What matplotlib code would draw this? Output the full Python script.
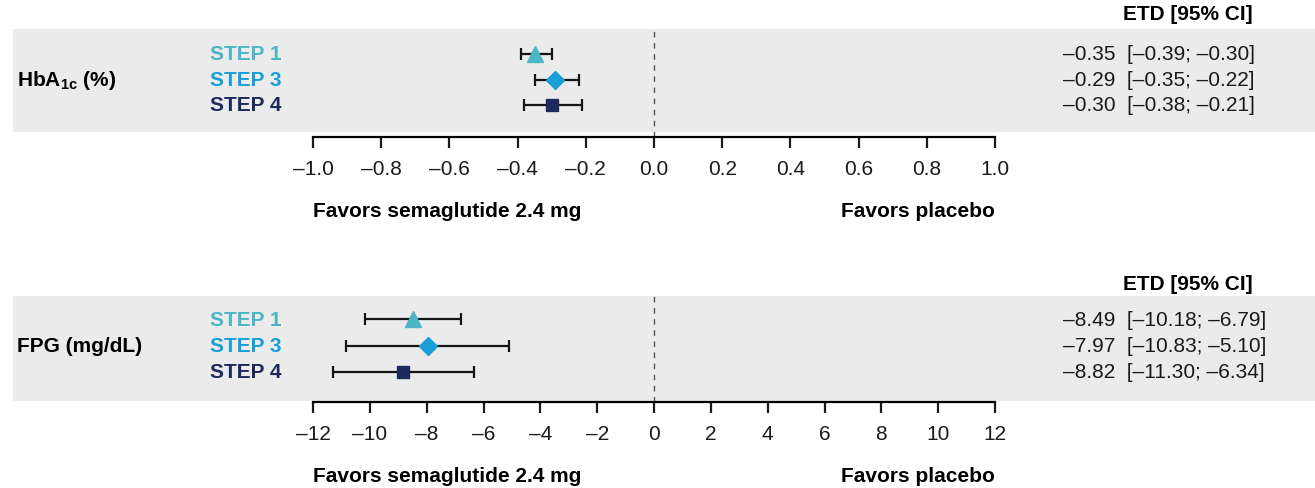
import matplotlib.pyplot as plt
from matplotlib.patches import Rectangle
from matplotlib.ticker import FuncFormatter

plt.rcParams['font.family'] = ['Liberation Sans', 'DejaVu Sans']
plt.rcParams['mathtext.fontset'] = 'custom'
plt.rcParams['mathtext.bf'] = 'Liberation Sans:bold'
plt.rcParams['mathtext.rm'] = 'Liberation Sans'

# data
studies = ["STEP 1", "STEP 3", "STEP 4"]
study_colors = ["#4cb5c6", "#189fd8", "#1d2a5e"]
study_markers = ["^", "D", "s"]
marker_sizes = [11, 9, 8]

hba1c_etd = [-0.35, -0.29, -0.30]
hba1c_lo = [-0.39, -0.35, -0.38]
hba1c_hi = [-0.30, -0.22, -0.21]
hba1c_ticks = [-1.0, -0.8, -0.6, -0.4, -0.2, 0.0, 0.2, 0.4, 0.6, 0.8, 1.0]

fpg_etd = [-8.49, -7.97, -8.82]
fpg_lo = [-10.18, -10.83, -11.30]
fpg_hi = [-6.79, -5.10, -6.34]
fpg_ticks = [-12, -10, -8, -6, -4, -2, 0, 2, 4, 6, 8, 10, 12]

FS = 15
W, H = 1315, 489
fig = plt.figure(figsize=(W / 100, H / 100), dpi=100)

def fx(px):
    return px / W

def fy(py):
    return 1 - py / H

def dash(s):
    return s.replace("-", "\u2013")

def panel(title, etd, lo, hi, ticks, fmt, band, ax_bottom, rows, header_y):
    # grey band behind the rows
    fig.patches.append(Rectangle((fx(13), fy(band[1])), fx(W - 13), (band[1] - band[0]) / H,
                                 transform=fig.transFigure, facecolor="#ebebeb",
                                 edgecolor="none", zorder=0))
    top = band[0]
    ax = fig.add_axes([fx(313), fy(ax_bottom), fx(995 - 313), (ax_bottom - top) / H])
    ax.set_zorder(2)
    ax.patch.set_alpha(0)
    span = rows[1] - rows[0]
    ax.set_ylim((ax_bottom - rows[0]) / span, -(rows[0] - top) / span)
    ax.set_xlim(ticks[0], ticks[-1])
    ax.axvline(0, color="#555555", lw=1, ls=(0, (4, 4)))
    for i in range(len(studies)):
        ax.errorbar(etd[i], i, xerr=[[etd[i] - lo[i]], [hi[i] - etd[i]]], fmt="none",
                    ecolor="#151515", elinewidth=1.6, capsize=4.5, capthick=1.6, zorder=2)
        ax.plot(etd[i], i, marker=study_markers[i], color=study_colors[i],
                markersize=marker_sizes[i], zorder=3, clip_on=False)
        fig.text(fx(210), fy(rows[i]), studies[i], color=study_colors[i], fontsize=FS,
                 fontweight="bold", va="center", ha="left")
        fig.text(fx(1063), fy(rows[i]),
                 dash(f"{etd[i]:.2f}  [{lo[i]:.2f}; {hi[i]:.2f}]"),
                 fontsize=FS, va="center", ha="left", color="#1a1a1a")
    for s in ["top", "left", "right"]:
        ax.spines[s].set_visible(False)
    ax.spines["bottom"].set_linewidth(1.6)
    ax.set_yticks([])
    ax.set_xticks(ticks)
    ax.xaxis.set_major_formatter(FuncFormatter(lambda v, p: dash(fmt.format(v))))
    ax.tick_params(axis="x", length=8, width=1.6, labelsize=FS, pad=8, colors="#1a1a1a")
    fig.text(fx(17), fy(rows[1]), title, fontsize=FS, fontweight="bold", va="center", ha="left")
    fig.text(fx(1188), fy(header_y), "ETD [95% CI]", fontsize=FS, fontweight="bold",
             ha="center", va="center")
    fig.text(fx(313), fy(ax_bottom + 74), "Favors semaglutide 2.4 mg", fontsize=FS,
             fontweight="bold", ha="left", va="center")
    fig.text(fx(995), fy(ax_bottom + 74), "Favors placebo", fontsize=FS,
             fontweight="bold", ha="right", va="center")
    return ax

panel(r"$\mathbf{HbA_{1c}}$ (%)", hba1c_etd, hba1c_lo, hba1c_hi, hba1c_ticks, "{:.1f}",
      (30, 133), 138, [55, 80.5, 106], 15)
panel("FPG (mg/dL)", fpg_etd, fpg_lo, fpg_hi, fpg_ticks, "{:.0f}",
      (297, 402), 403, [320, 346.5, 373], 285)

fig.savefig("out.png", dpi=100)
